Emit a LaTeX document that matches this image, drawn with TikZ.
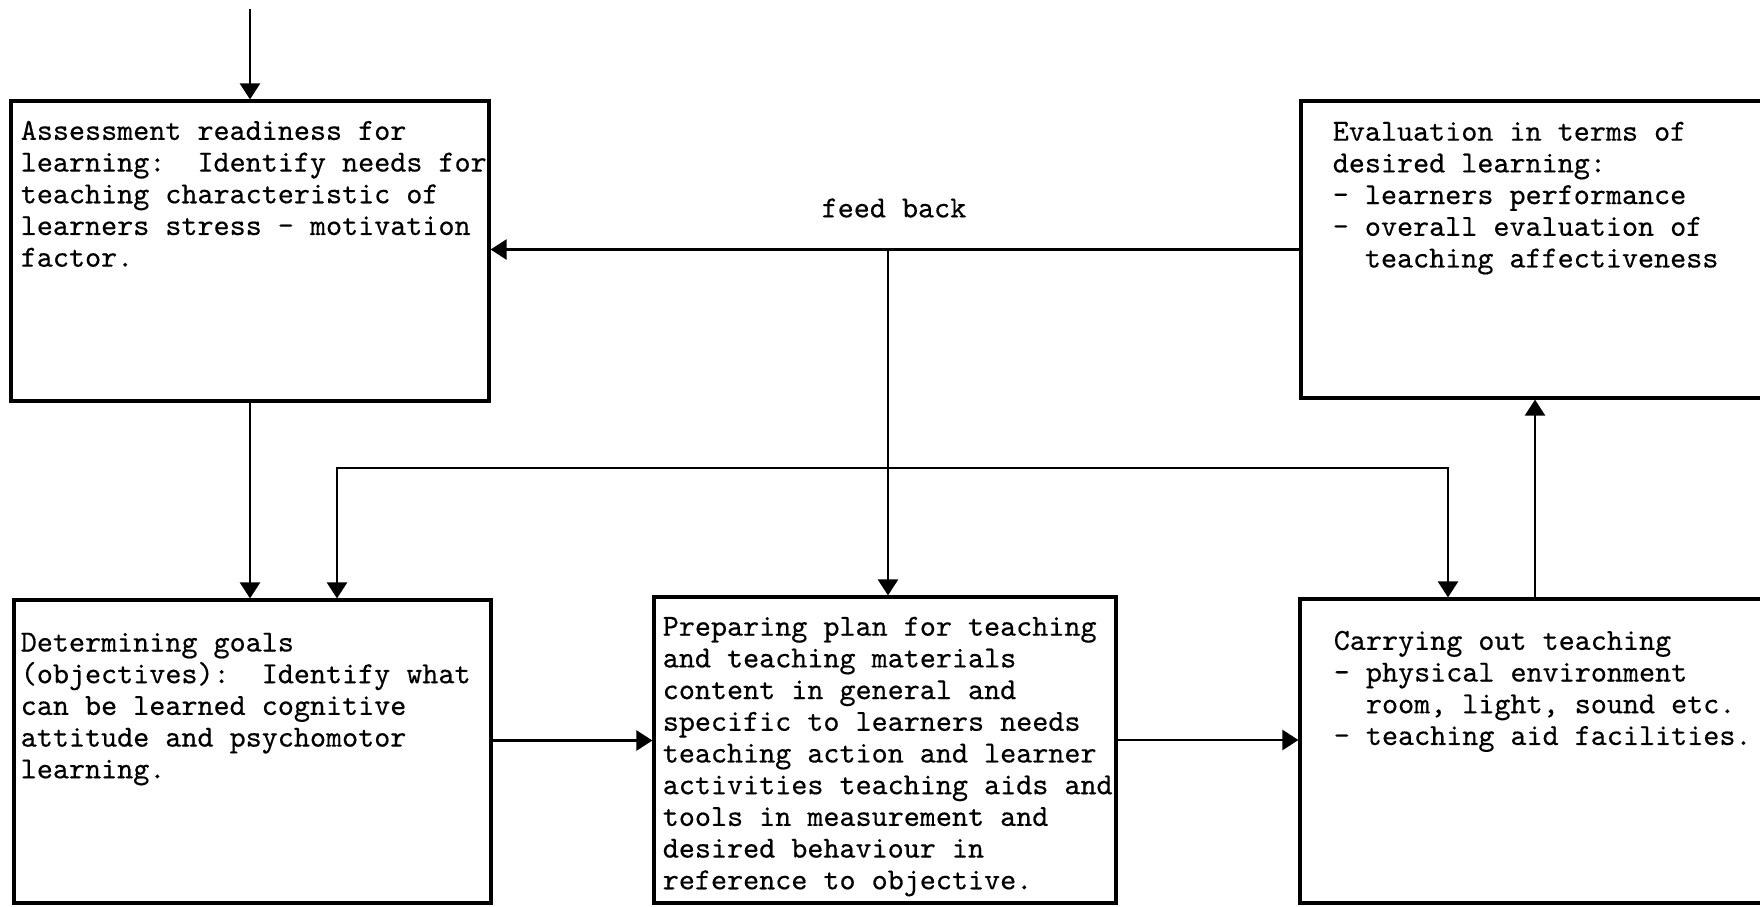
\documentclass[tikz,border=0pt]{standalone}
\usepackage{fontspec}
\newfontfamily\typewriter{lmmono10-regular}[Extension=.otf, FakeBold=0.4]
\usetikzlibrary{arrows.meta,positioning}
\tikzset{
    flow diagram/.style = {x=0.5pt, y=-0.5pt,
                           >={Triangle[length=8pt, width=10pt]}},
    line/.style         = {line width=1.25pt},
    stage/.style        = {draw, line width=1.6pt, inner sep=0pt},
    typed/.style        = {font=\typewriter\fontsize{15.3pt}{15.85pt}\selectfont},
    stagetext/.style    = {typed, anchor=north west, inner sep=0pt,
                           align=left},
    note/.style         = {typed, inner sep=0pt}
}

\begin{document}
\begin{tikzpicture}[flow diagram]
\useasboundingbox (0,0) rectangle (1760,906);
\clip (0,0) rectangle (1760,906);

% ================= Top row: assessment and evaluation =================
\node[stage, minimum width=239pt, minimum height=150pt] (assess) at (250,251) {};
\node[stagetext] (assess txt) at ([shift={(5.5pt,-10.5pt)}]assess.north west)
    {Assessment readiness for\\learning:\ \ Identify needs for\\teaching characteristic of\\learners stress - motivation\\factor.};
\node[stage, minimum width=240pt, minimum height=148.5pt] (evaluate) at (1541,249.5) {};
\node[stagetext] (evaluate txt) at ([shift={(16.5pt,-11pt)}]evaluate.north west)
    {Evaluation in terms of\\desired learning:\\- learners performance\\- overall evaluation of\\\ \ teaching affectiveness};

% ================= Bottom row: goals, plan, teaching =================
\node[stage, minimum width=238.5pt, minimum height=151.5pt] (goals) at (252.5,751.5) {};
\node[stagetext] (goals txt) at ([shift={(4pt,-17pt)}]goals.north west)
    {Determining goals\\(objectives):\ \ Identify what\\can be learned cognitive\\attitude and psychomotor\\learning.};
\node[stage, minimum width=231pt, minimum height=153pt] (plan) at (885,750) {};
\node[stagetext] (plan txt) at ([shift={(5pt,-10.5pt)}]plan.north west)
    {Preparing plan for teaching\\and teaching materials\\content in general and\\specific to learners needs\\teaching action and learner\\activities teaching aids and\\tools in measurement and\\desired behaviour in\\reference to objective.};
\node[stage, minimum width=240pt, minimum height=152pt] (carry) at (1540,751) {};
\node[stagetext] (carry txt) at ([shift={(17.5pt,-16.5pt)}]carry.north west)
    {Carrying out teaching\\- physical environment\\\ \ room, light, sound etc.\\- teaching aid facilities.};

% ================= Entry and main flow =================
\coordinate (entry) at (250,9);
\draw[line, ->] (entry) -- (assess.north);
\draw[line, ->] (assess.south) -- (assess.south |- goals.north);
\draw[line, ->] ([yshift=5.5pt]goals.east) -- ([yshift=5.5pt]goals.east -| plan.west);
\draw[line, ->] ([yshift=5pt]plan.east) -- ([yshift=5pt]plan.east -| carry.west);
\draw[line, ->] ([xshift=-2.5pt]carry.north) -- ([xshift=-2.5pt]carry.north |- evaluate.south);

% ================= Feed back =================
\draw[line, ->] (evaluate.west) -- (evaluate.west -| assess.east);
\node[note] (fb label) at (894,208) {feed back};
\coordinate (fb) at (888,248);
\draw[line, ->] (fb) -- (fb |- plan.north);
\coordinate (loopL) at (337,468);
\coordinate (loopR) at (1448,468);
\draw[line, <->] (loopL |- goals.north) -- (loopL) -- (loopR) -- (loopR |- carry.north);

\end{tikzpicture}
\end{document}
